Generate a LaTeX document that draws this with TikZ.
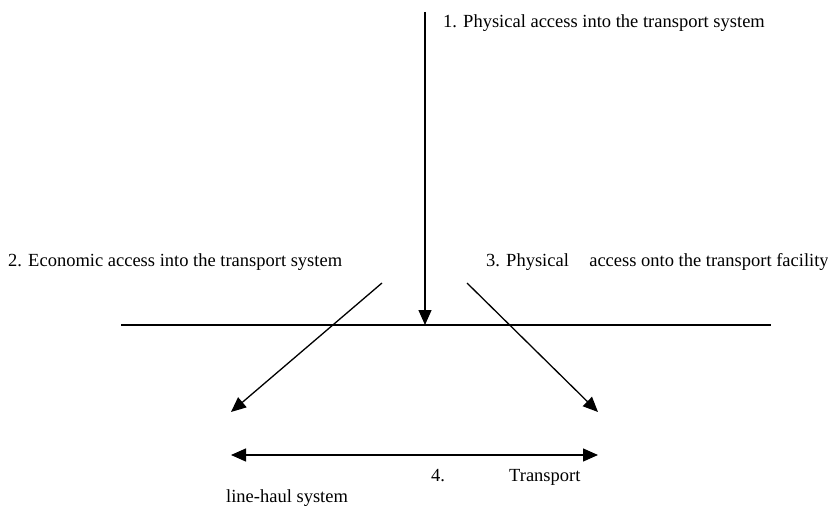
\documentclass[tikz,border=0pt]{standalone}
\usepackage{fontspec}
\setmainfont{Liberation Serif}
\usetikzlibrary{arrows.meta}
\begin{document}
\begin{tikzpicture}[x=1pt,y=-1pt,
  lbl/.style={inner sep=0pt,font=\fontsize{18.5}{21}\selectfont},
  conn/.style={line width=1.3pt,-{Triangle[length=15pt,width=13pt]}},
  base/.style={line width=1.3pt}]
\useasboundingbox (0,0) rectangle (828,516);
% coordinates
\coordinate (vtop) at (425,12);
\coordinate (vtip) at (425,325);
\coordinate (hl) at (121,325);
\coordinate (hr) at (771,325);
\coordinate (ls) at (382,283);
\coordinate (lt) at (231,412);
\coordinate (rs) at (467,283);
\coordinate (rt) at (598,412);
\coordinate (dl) at (231,455);
\coordinate (dr) at (598,455);
% lines
\draw[base] (hl) -- (hr);
\draw[conn] (vtop) -- (vtip);
\draw[conn] (ls) -- (lt);
\draw[conn] (rs) -- (rt);
\draw[line width=1.3pt,{Triangle[length=15pt,width=13pt]}-{Triangle[length=15pt,width=13pt]}] (dl) -- (dr);
% labels
\node[lbl,anchor=base west] (t1) at (443,28) {1. Physical access into the transport system};
\node[lbl,anchor=base west] (t2) at (8,266) {2. Economic access into the transport system};
\node[lbl,anchor=base west] (t3) at (486,266) {3. Physical\hspace{1.1em}access onto the transport facility};
\node[lbl,anchor=base west] (t4) at (431,481) {4.};
\node[lbl,anchor=base west] (t5) at (509,481) {Transport};
\node[lbl,anchor=base west] (t6) at (226,502) {line-haul system};
\end{tikzpicture}
\end{document}
